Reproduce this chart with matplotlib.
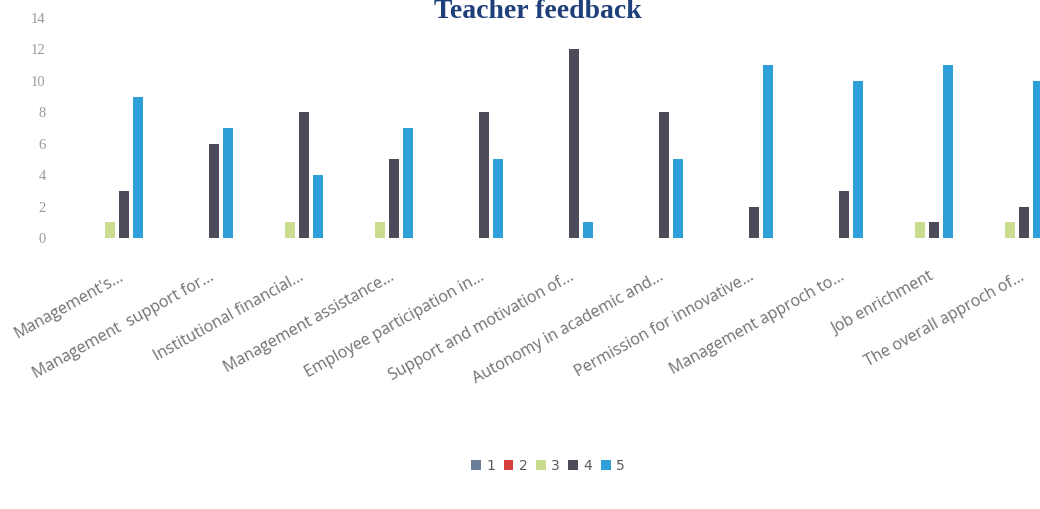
import matplotlib.pyplot as plt
import numpy as np

# categories (truncated as in the chart)
categories = [
    "Management's...",
    "Management  support for...",
    "Institutional financial...",
    "Management assistance...",
    "Employee participation in...",
    "Support and motivation of...",
    "Autonomy in academic and...",
    "Permission for innovative...",
    "Management approch to...",
    "Job enrichment",
    "The overall approch of...",
]

series_names = ["1", "2", "3", "4", "5"]
s1 = [0, 0, 0, 0, 0, 0, 0, 0, 0, 0, 0]
s2 = [0, 0, 0, 0, 0, 0, 0, 0, 0, 0, 0]
s3 = [1, 0, 1, 1, 0, 0, 0, 0, 0, 1, 1]
s4 = [3, 6, 8, 5, 8, 12, 8, 2, 3, 1, 2]
s5 = [9, 7, 4, 7, 5, 1, 5, 11, 10, 11, 10]

colors = ["#6a7d99", "#d8403f", "#c9dc8f", "#4c4b5a", "#2e9fd9"]

fig = plt.figure(figsize=(10.4, 5.09), dpi=100)
ax = fig.add_axes([65 / 1040, 1 - 238 / 509, 975 / 1040, 220 / 509])

x = np.arange(len(categories))
slot = 0.155
width = 0.11
for k, vals in enumerate([s1, s2, s3, s4, s5]):
    ax.bar(x + (k - 2) * slot, vals, width, color=colors[k], label=series_names[k])

ax.set_xlim(-0.5, -0.5 + 975 / 90)
ax.set_ylim(0, 14)
ax.set_yticks(range(0, 15, 2))
ax.tick_params(axis="y", length=0, labelsize=10.5, labelcolor="#9a9a9a", pad=14)
ax.tick_params(axis="x", length=0, pad=22)
ax.set_xticks(x + 0.1)
ax.set_xticklabels(categories, rotation=29, ha="right", rotation_mode="anchor",
                   fontsize=11.5, color="#707070", family="Open Sans")
for lab in ax.get_yticklabels():
    lab.set_family("Liberation Serif")
for sp in ax.spines.values():
    sp.set_visible(False)

fig.text(0.517, 0.978, "Teacher feedback", ha="center", va="center",
         fontsize=20, fontweight="bold", color="#1f3f7a", family="Liberation Serif")

fig.legend(loc="center", bbox_to_anchor=(0.527, 0.085), ncol=5, frameon=False,
           fontsize=10, handlelength=0.7, handleheight=0.7, handletextpad=0.4,
           columnspacing=0.6, labelcolor="#595959")

fig.savefig("out.png", dpi=100)
